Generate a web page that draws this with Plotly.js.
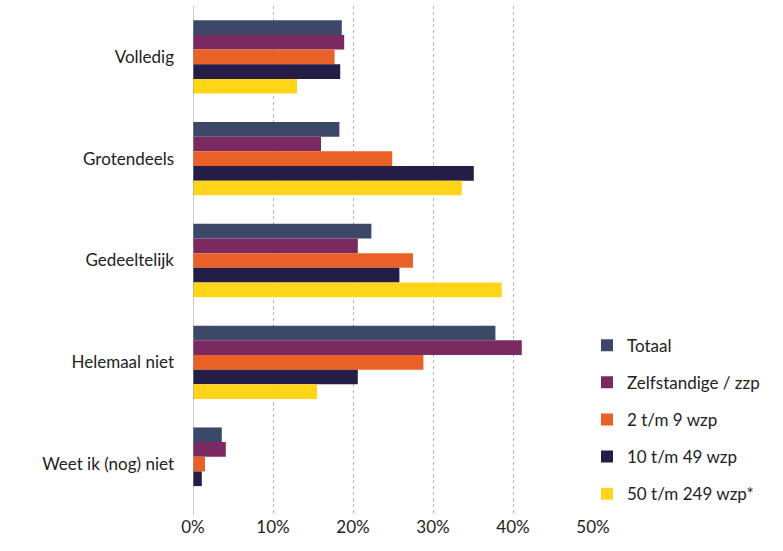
<!DOCTYPE html>
<html><head><meta charset="utf-8">
<script src="https://cdn.plot.ly/plotly-3.0.1.min.js"></script>
<style>html,body{margin:0;padding:0;background:#fff}</style>
</head><body>
<div id="chart" style="width:783px;height:551px"></div>
<script>
const categories = ["Volledig", "Grotendeels", "Gedeeltelijk", "Helemaal niet", "Weet ik (nog) niet"];
const seriesNames = ["Totaal", "Zelfstandige / zzp", "2 t/m 9 wzp", "10 t/m 49 wzp", "50 t/m 249 wzp*"];
const totaal = [18.6, 18.3, 22.3, 37.8, 3.6];
const zelfstandige = [18.9, 16.0, 20.6, 41.1, 4.1];
const wzp2_9 = [17.7, 24.9, 27.5, 28.8, 1.5];
const wzp10_49 = [18.4, 35.1, 25.8, 20.6, 1.1];
const wzp50_249 = [13.0, 33.6, 38.6, 15.5, 0];
const tickVals = [0, 10, 20, 30, 40, 50];
const tickText = ["0%", "10%", "20%", "30%", "40%", "50%"];
const colors = ["#3c4868", "#7a2a60", "#ea6127", "#241e47", "#ffd51a"];

const values = [totaal, zelfstandige, wzp2_9, wzp10_49, wzp50_249];
const traces = values.map((v, i) => ({
  type: "bar", orientation: "h",
  name: seriesNames[i], x: v, y: categories,
  marker: {color: colors[i], line: {width: 0}},
  legendgroup: "g" + i,
  hoverinfo: "x+name"
}));

const layout = {
  width: 783, height: 551,
  margin: {l: 193, r: 190, t: 6, b: 36},
  paper_bgcolor: "#fff", plot_bgcolor: "#fff",
  barmode: "group", bargap: 0.28, bargroupgap: 0,
  font: {family: "Lato, 'Open Sans', sans-serif", color: "#222", size: 17},
  xaxis: {
    range: [0, 50], tickvals: tickVals, ticktext: tickText,
    showgrid: true, gridcolor: "#b5b5b5", griddash: "dot", gridwidth: 1,
    zeroline: false, showline: false, ticks: "", ticklen: 0,
    tickfont: {size: 17, color: "#222"}, fixedrange: true
  },
  yaxis: {
    autorange: "reversed", type: "category",
    showgrid: false, zeroline: false, showline: false, ticks: "",
    ticklabelstandoff: 18,
    tickfont: {size: 17, color: "#222"}
  },
  shapes: [{type: "line", xref: "x", yref: "paper", x0: 0, x1: 0, y0: 0, y1: 1,
            line: {color: "#9a9a9a", width: 1}}],
  showlegend: true,
  legend: {
    x: 0.985, xanchor: "left", y: 0.368, yanchor: "top",
    traceorder: "grouped", tracegroupgap: 12,
    font: {size: 17, color: "#222"},
    bgcolor: "rgba(0,0,0,0)"
  }
};
Plotly.newPlot("chart", traces, layout, {displayModeBar: false, staticPlot: true});
</script>
</body></html>
